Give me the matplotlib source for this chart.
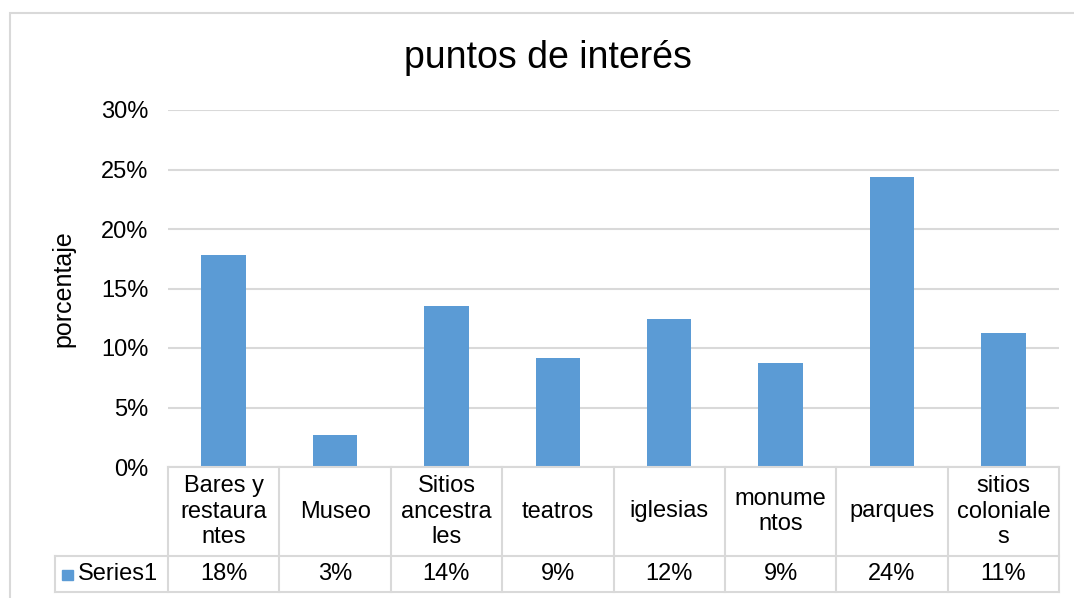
import matplotlib.pyplot as plt
from matplotlib.patches import Rectangle
from matplotlib.lines import Line2D

categorias = ["Bares y\nrestaura\nntes", "Museo", "Sitios\nancestra\nles", "teatros",
              "iglesias", "monume\nntos", "parques", "sitios\ncoloniale\ns"]
valores = [0.178, 0.027, 0.135, 0.092, 0.124, 0.087, 0.244, 0.113]
rotulos = ["18%", "3%", "14%", "9%", "12%", "9%", "24%", "11%"]
serie = "Series1"

azul = "#5b9bd5"
cinza = "#d9d9d9"
plt.rcParams['font.family'] = ['Liberation Sans', 'DejaVu Sans']

W, H = 1074, 598
fig = plt.figure(figsize=(W / 100, H / 100), dpi=100)

# borda do gráfico
fig.patches.append(Rectangle((10 / W, -0.1), 1.2, 1 - 13 / H + 0.1, transform=fig.transFigure,
                             fill=False, edgecolor=cinza, linewidth=1.5))

x0, x1, y0, y1 = 168, 1059, 467, 110
ax = fig.add_axes([x0 / W, 1 - y0 / H, (x1 - x0) / W, (y0 - y1) / H])

n = len(categorias)
ax.bar(range(n), valores, width=0.4, color=azul, zorder=3)
ax.set_xlim(-0.5, n - 0.5)
ax.set_ylim(0, 0.30)
ax.set_yticks([0, 0.05, 0.10, 0.15, 0.20, 0.25, 0.30])
ax.set_yticklabels(["0%", "5%", "10%", "15%", "20%", "25%", "30%"], fontsize=17)
ax.tick_params(axis='y', length=0, pad=14)
ax.set_xticks([])
ax.grid(axis='y', color=cinza, linewidth=1.5, zorder=0)
for s in ax.spines.values():
    s.set_visible(False)


def fx(px):
    return px / W


def fy(py):
    return 1 - py / H


fig.text(fx(63), fy(289), "porcentaje", fontsize=18, rotation=90, ha='center', va='center')
fig.text(fx(548), fy(58), "puntos de interés", fontsize=27, ha='center', va='center')

# tabela de dados
linha1, linha2, linha3 = 467, 556, 592
larg = (x1 - x0) / n
kw = dict(transform=fig.transFigure, color=cinza, linewidth=1.5)
fig.add_artist(Line2D([fx(x0), fx(x1)], [fy(linha1), fy(linha1)], **kw))
fig.add_artist(Line2D([fx(55), fx(x1)], [fy(linha2), fy(linha2)], **kw))
fig.add_artist(Line2D([fx(55), fx(x1)], [fy(linha3), fy(linha3)], **kw))
fig.add_artist(Line2D([fx(55), fx(55)], [fy(linha2), fy(linha3)], **kw))
for i in range(n + 1):
    xi = x0 + i * larg
    fig.add_artist(Line2D([fx(xi), fx(xi)], [fy(linha1), fy(linha3)], **kw))

for i in range(n):
    xc = x0 + (i + 0.5) * larg
    fig.text(fx(xc), fy((linha1 + linha2) / 2), categorias[i], fontsize=17,
             ha='center', va='center', linespacing=1.22)
    fig.text(fx(xc), fy((linha2 + linha3) / 2), rotulos[i], fontsize=17,
             ha='center', va='center')

fig.patches.append(Rectangle((fx(62), fy(580)), 11 / W, 10 / H, transform=fig.transFigure,
                             color=azul))
fig.text(fx(78), fy((linha2 + linha3) / 2), serie, fontsize=17, ha='left', va='center')

fig.savefig("out.png", dpi=100)
